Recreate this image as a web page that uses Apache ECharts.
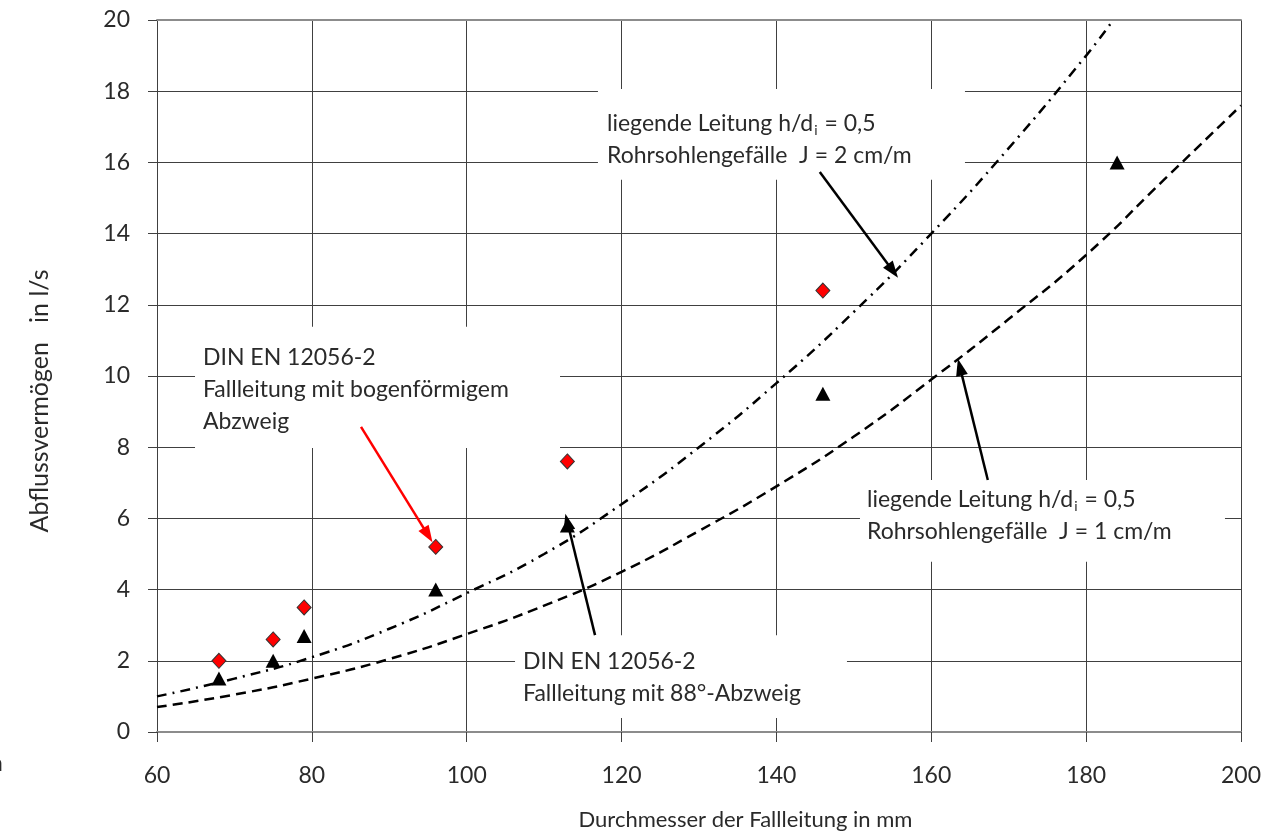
<!DOCTYPE html>
<html><head><meta charset="utf-8">
<script src="https://cdn.jsdelivr.net/npm/echarts@6/dist/echarts.min.js"></script>
<style>html,body{margin:0;padding:0;background:#fff}#c{width:1286px;height:835px}</style>
</head><body><div id="c"></div>
<script>
// ---- data ----
const bogenX = [68, 75, 79, 96, 113, 146];
const bogenY = [2.0, 2.6, 3.5, 5.2, 7.6, 12.4];
const abzweig88X = [68, 75, 79, 96, 113, 146, 184];
const abzweig88Y = [1.5, 2.0, 2.7, 4.0, 5.8, 9.5, 16.0];
const j2X = [60, 70, 80, 90, 100, 110, 120, 130, 140, 150, 160, 170, 180, 183.5];
const j2Y = [1.0, 1.5, 2.1, 2.9, 3.9, 5.0, 6.4, 8.0, 9.8, 11.8, 14.0, 16.4, 19.0, 20.0];
const j1X = [60, 70, 80, 90, 100, 110, 120, 130, 140, 150, 160, 170, 180, 190, 200];
const j1Y = [0.7, 1.05, 1.5, 2.05, 2.75, 3.55, 4.5, 5.65, 6.9, 8.3, 9.9, 11.6, 13.4, 15.5, 17.6];
const xAxisTitle = 'Durchmesser der Fallleitung in mm';
const yAxisTitle = 'Abflussvermögen   in l/s';

const pairs = (xs, ys) => xs.map((x, i) => [x, ys[i]]);

// annotation layout (data coordinates)
const arrows = [
  {from: [145.6, 15.73], to: [155.05, 12.95], color: '#000'},
  {from: [167.3, 7.08], to: [163.7, 10.25], color: '#000'},
  {from: [116.57, 2.72], to: [113.0, 5.9], color: '#000'},
  {from: [86.35, 8.57], to: [95.0, 5.53], color: '#ff0000'}
];
const notes = [
  {box: [116.95, 18.06, 164.35, 15.51], at: [118.12, 17.08],
   lines: ['{n|liegende Leitung h/d}{s|i}{n| = 0,5}', 'Rohrsohlengefälle  J = 2 cm/m']},
  {box: [150.79, 7.08, 197.93, 4.78], at: [151.70, 6.52],
   lines: ['{n|liegende Leitung h/d}{s|i}{n| = 0,5}', 'Rohrsohlengefälle  J = 1 cm/m']},
  {box: [106.24, 2.72, 149.11, 0.39], at: [107.27, 1.97],
   lines: ['DIN EN 12056-2', 'Fallleitung mit 88°-Abzweig']},
  {box: [64.91, 11.38, 112.05, 7.98], at: [65.94, 10.53],
   lines: ['DIN EN 12056-2', 'Fallleitung mit bogenförmigem', 'Abzweig']}
];

const FONT = 'Lato';
const FW = 'normal';
const TXT = '#2a2a2a';
const GRID = '#404040';

const chart = echarts.init(document.getElementById('c'), null, {renderer: 'canvas'});
chart.setOption({
  animation: false,
  backgroundColor: '#fff',
  grid: {left: 157, right: 45, top: 20, bottom: 103, containLabel: false},
  xAxis: [{
    type: 'value', min: 60, max: 200, interval: 20,
    axisLine: {show: true, lineStyle: {color: '#8c8c8c', width: 2}},
    axisTick: {show: true, length: 10, lineStyle: {color: GRID}},
    axisLabel: {margin: 32, fontFamily: FONT, fontWeight: FW, fontSize: 23, color: TXT},
    splitLine: {show: true, lineStyle: {color: GRID, width: 1}}
  }, {
    type: 'value', min: 60, max: 200, interval: 20, position: 'top',
    axisLine: {show: true, lineStyle: {color: '#8c8c8c', width: 2}},
    axisTick: {show: false}, axisLabel: {show: false}, splitLine: {show: false}
  }],
  yAxis: {
    type: 'value', min: 0, max: 20, interval: 2,
    axisLine: {show: false},
    axisTick: {show: true, length: 9, lineStyle: {color: GRID}},
    axisLabel: {margin: 27, fontFamily: FONT, fontWeight: FW, fontSize: 23, color: TXT},
    splitLine: {show: true, lineStyle: {color: GRID, width: 1}}
  },
  series: [
    {type: 'line', data: pairs(j2X, j2Y), smooth: true, showSymbol: false, z: 3,
     lineStyle: {color: '#000', width: 2.5, type: [10, 6, 2, 6]}},
    {type: 'line', data: pairs(j1X, j1Y), smooth: true, showSymbol: false, z: 3,
     lineStyle: {color: '#000', width: 2.5, type: [10, 6]}},
    {type: 'scatter', data: pairs(bogenX, bogenY), symbol: 'diamond', symbolSize: [14, 15], z: 5,
     itemStyle: {color: '#ff0000', borderColor: '#333', borderWidth: 1, opacity: 1}},
    {type: 'scatter', data: pairs(abzweig88X, abzweig88Y), symbol: 'triangle', symbolSize: [15, 14], z: 5,
     itemStyle: {color: '#000', opacity: 1}},
    {type: 'line', data: [], silent: true, z: 6,
     markLine: {
       silent: true, animation: false, symbol: ['none', 'triangle'], symbolSize: [12, 17],
       label: {show: false},
       data: arrows.map(a => [
         {coord: a.from, lineStyle: {color: a.color, width: 2.5, type: 'solid'}, itemStyle: {color: a.color}},
         {coord: a.to}
       ])
     }}
  ]
});

const toPx = p => chart.convertToPixel({gridIndex: 0}, p);
const graphics = [];
notes.forEach(n => {
  const p0 = toPx([n.box[0], n.box[1]]);
  const p1 = toPx([n.box[2], n.box[3]]);
  graphics.push({type: 'rect', z: 1, silent: true,
    shape: {x: p0[0], y: p0[1], width: p1[0] - p0[0], height: p1[1] - p0[1]},
    style: {fill: '#fff'}});
  const t = toPx(n.at);
  n.lines.forEach((ln, i) => {
    graphics.push({type: 'text', z: 7, silent: true, x: t[0], y: t[1] + i * 32,
      style: {text: ln.indexOf('{') === 0 ? ln : '{n|' + ln + '}',
        verticalAlign: 'middle', align: 'left',
        rich: {
          n: {fontFamily: FONT, fontWeight: FW, fontSize: 23, fill: TXT, color: TXT},
          s: {fontFamily: FONT, fontWeight: FW, fontSize: 14, fill: TXT, color: TXT, padding: [14, 1, 0, 1]}
        }}});
  });
});
// axis titles
const xMid = toPx([136, 0]);
graphics.push({type: 'text', z: 7, silent: true, x: xMid[0], y: 820,
  style: {text: xAxisTitle, fontFamily: FONT, fontWeight: FW, fontSize: 22, fill: TXT,
    align: 'center', verticalAlign: 'middle'}});
const yMid = toPx([60, 9.3]);
graphics.push({type: 'text', z: 7, silent: true, x: 40, y: yMid[1], rotation: Math.PI / 2,
  style: {text: yAxisTitle, fontFamily: FONT, fontWeight: FW, fontSize: 25, fill: TXT,
    align: 'center', verticalAlign: 'middle'}});
graphics.push({type: 'text', z: 7, silent: true, x: -10, y: 764,
  style: {text: 'n', fontFamily: FONT, fontWeight: FW, fontSize: 23, fill: TXT, verticalAlign: 'middle'}});
chart.setOption({graphic: graphics});
</script></body></html>
